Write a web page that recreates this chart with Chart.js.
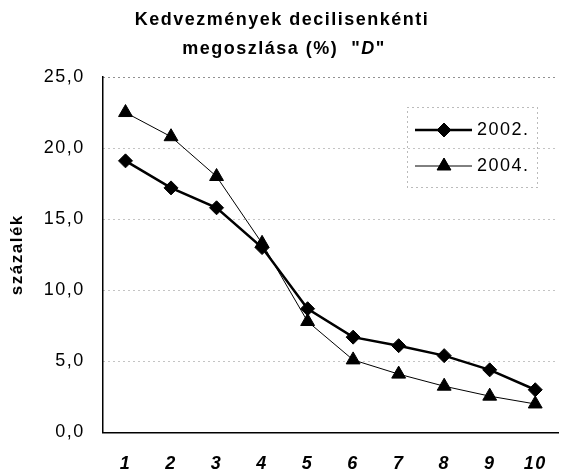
<!DOCTYPE html>
<html><head><meta charset="utf-8">
<script src="https://cdn.jsdelivr.net/npm/chart.js@4/dist/chart.umd.min.js"></script>
<style>html,body{margin:0;padding:0;background:#fff}#wrap{width:567px;height:475px}</style>
</head><body><div id="wrap"><canvas id="c" width="567" height="475"></canvas></div>
<script>
const categories = ['1','2','3','4','5','6','7','8','9','10'];
const series2002 = [19.1, 17.2, 15.8, 13.0, 8.7, 6.7, 6.1, 5.4, 4.4, 3.0];
const series2004 = [22.5, 20.8, 18.0, 13.3, 7.8, 5.1, 4.1, 3.25, 2.55, 2.0];
const yTickLabels = ['0,0','5,0','10,0','15,0','20,0','25,0'];
const titleLines = ['Kedvezmények decilisenkénti', 'megoszlása (%)  "D"'];
const seriesNames = ['2002.', '2004.'];

const FONT = '"Liberation Sans", Arial, sans-serif';
const SPACING = '1.5px';

const spacingPlugin = {
  id: 'spacing',
  beforeUpdate(chart) { chart.ctx.letterSpacing = SPACING; },
  beforeDraw(chart) { chart.ctx.letterSpacing = SPACING; }
};

const titlePlugin = {
  id: 'customTitle',
  afterDraw(chart) {
    const ctx = chart.ctx;
    ctx.save();
    ctx.fillStyle = '#000';
    ctx.textBaseline = 'middle';
    ctx.letterSpacing = '1.5px';
    const fN = 'bold 18px ' + FONT, fI = 'bold italic 18px ' + FONT;
    ctx.font = fN;
    ctx.textAlign = 'center';
    ctx.fillText(titleLines[0], 282, 20);
    const parts = [['megoszlása (%)  "', fN], ['D', fI], ['"', fN]];
    let total = 0;
    parts.forEach(p => { ctx.font = p[1]; total += ctx.measureText(p[0]).width; });
    let x = 284 - total / 2;
    ctx.textAlign = 'left';
    parts.forEach(p => { ctx.font = p[1]; ctx.fillText(p[0], x, 49.5); x += ctx.measureText(p[0]).width; });
    ctx.restore();
  }
};

const legendPlugin = {
  id: 'boxLegend',
  afterDraw(chart) {
    const ctx = chart.ctx;
    const a = chart.chartArea;
    const bx = a.right - 151, by = a.top + 30, bw = 130, bh = 80;
    ctx.save();
    ctx.strokeStyle = '#777';
    ctx.lineWidth = 1;
    ctx.setLineDash([1, 4]);
    ctx.strokeRect(bx + 0.5, by + 0.5, bw, bh);
    ctx.setLineDash([]);
    const items = [
      {y: by + 23, w: 2.5, style: 'rectRot', r: 7, label: seriesNames[0]},
      {y: by + 59, w: 1, style: 'triangle', r: 8, label: seriesNames[1]}
    ];
    items.forEach(it => {
      ctx.strokeStyle = '#000';
      ctx.fillStyle = '#000';
      ctx.lineWidth = it.w;
      ctx.beginPath();
      ctx.moveTo(bx + 8, it.y);
      ctx.lineTo(bx + 65, it.y);
      ctx.stroke();
      ctx.lineWidth = 1;
      Chart.helpers.drawPoint(ctx, {pointStyle: it.style, radius: it.r, borderWidth: 1, rotation: 0}, bx + 37, it.y);
      ctx.fill();
      ctx.font = '18px ' + FONT;
      ctx.letterSpacing = '1.5px';
      ctx.textAlign = 'left';
      ctx.textBaseline = 'middle';
      ctx.fillText(it.label, bx + 70, it.y);
    });
    ctx.restore();
  }
};

new Chart(document.getElementById('c'), {
  type: 'line',
  data: {
    labels: categories,
    datasets: [
      {label: seriesNames[0], data: series2002, borderColor: '#000', backgroundColor: '#000',
       borderWidth: 2.5, pointStyle: 'rectRot', pointRadius: 7, pointBorderWidth: 1, tension: 0},
      {label: seriesNames[1], data: series2004, borderColor: '#000', backgroundColor: '#000',
       borderWidth: 1, pointStyle: 'triangle', pointRadius: 8, pointBorderWidth: 1, tension: 0}
    ]
  },
  options: {
    responsive: false,
    animation: false,
    layout: {padding: {top: 77, right: 1, left: 2, bottom: 0}},
    plugins: {legend: {display: false}, title: {display: false}, tooltip: {enabled: false}},
    scales: {
      x: {
        offset: true,
        grid: {display: true, drawOnChartArea: false, tickLength: 21, tickColor: 'rgba(0,0,0,0)'},
        border: {display: true, color: '#000', width: 1.5},
        ticks: {color: '#000', padding: 0, maxRotation: 0, font: {family: FONT, size: 18, weight: 'bold', style: 'italic'}}
      },
      y: {
        min: 0, max: 25,
        ticks: {stepSize: 5, color: '#000', padding: 0,
          font: {family: FONT, size: 18},
          callback: (v, i) => yTickLabels[i]},
        grid: {
          color: ctx => (ctx.tick && ctx.tick.value === 25) ? '#222' : '#888',
          lineWidth: 1, tickLength: 18, tickColor: 'rgba(0,0,0,0)'
        },
        border: {display: true, color: '#000', width: 1.5, dash: [1, 4]}
        ,
        title: {display: true, text: 'százalék', color: '#000', padding: {top: 4.8, bottom: 16.5},
          font: {family: FONT, size: 17, weight: 'bold'}}
      }
    }
  },
  plugins: [spacingPlugin, titlePlugin, legendPlugin]
});
</script>
</body></html>
